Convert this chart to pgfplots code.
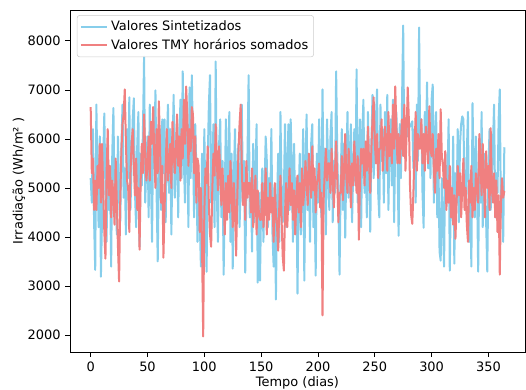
\documentclass[border=0pt]{standalone}
\usepackage{pgfplots}
\usepackage{pgfplotstable}
\pgfplotsset{compat=1.18}
\usepackage{fontspec}
\setmainfont{DejaVu Sans}

\definecolor{skyblue}{HTML}{87CEEB}
\definecolor{lightcoral}{HTML}{F08080}
\definecolor{legframe}{HTML}{CCCCCC}

% Daily irradiation, synthesized series (Wh/m2), day 0..364
\pgfplotstableread[row sep=\\]{
S\\
5200\\ 4700\\ 6200\\ 4300\\ 3330\\ 6700\\ 5200\\ 4200\\ 6050\\ 3190\\
4400\\ 5550\\ 6520\\ 4900\\ 3900\\ 5900\\ 4550\\ 5300\\ 3395\\ 5700\\
6630\\ 4700\\ 5200\\ 4050\\ 6050\\ 4900\\ 4300\\ 5800\\ 6700\\ 4800\\
5400\\ 4050\\ 6200\\ 5200\\ 6850\\ 4550\\ 5550\\ 6400\\ 6830\\ 4900\\
4200\\ 5900\\ 6550\\ 3800\\ 5700\\ 5050\\ 6200\\ 7680\\ 4700\\ 5550\\
6050\\ 4400\\ 6700\\ 5300\\ 3900\\ 6300\\ 5700\\ 6990\\ 4900\\ 3500\\
5400\\ 6200\\ 4550\\ 6400\\ 5300\\ 6400\\ 4300\\ 5900\\ 6700\\ 4900\\
6200\\ 4050\\ 5700\\ 6900\\ 4800\\ 5400\\ 6400\\ 4400\\ 5900\\ 6800\\
5200\\ 7380\\ 5550\\ 4700\\ 6550\\ 6050\\ 4200\\ 7050\\ 5200\\ 7300\\
5900\\ 4400\\ 6300\\ 5400\\ 3900\\ 4900\\ 4300\\ 3395\\ 5700\\ 3700\\
6200\\ 4550\\ 3290\\ 5550\\ 6700\\ 7300\\ 4700\\ 5200\\ 6300\\ 4200\\
7580\\ 4900\\ 3900\\ 5900\\ 6400\\ 4400\\ 5550\\ 3230\\ 4900\\ 6400\\
4550\\ 5400\\ 6550\\ 3900\\ 5700\\ 3354\\ 5200\\ 6200\\ 4400\\ 5300\\
5900\\ 4200\\ 5050\\ 6700\\ 4700\\ 5550\\ 3272\\ 4900\\ 5700\\ 7300\\
4400\\ 5200\\ 3700\\ 5900\\ 4300\\ 5300\\ 6300\\ 3069\\ 4900\\ 3110\\
4700\\ 5400\\ 3900\\ 4900\\ 6050\\ 5550\\ 4200\\ 5200\\ 4550\\ 6200\\
4050\\ 3395\\ 5050\\ 2724\\ 4700\\ 5700\\ 3900\\ 6550\\ 4900\\ 4300\\
4900\\ 6300\\ 4200\\ 5300\\ 6300\\ 4550\\ 6400\\ 5400\\ 3900\\ 5900\\
4400\\ 5200\\ 2846\\ 4800\\ 5700\\ 4050\\ 4900\\ 6200\\ 3110\\ 5400\\
6500\\ 4550\\ 5300\\ 3900\\ 5900\\ 6300\\ 4200\\ 4900\\ 3211\\ 5700\\
4700\\ 6400\\ 5300\\ 4400\\ 7012\\ 4900\\ 5800\\ 4050\\ 6400\\ 5400\\
4550\\ 6050\\ 6550\\ 4300\\ 5550\\ 4900\\ 7378\\ 5700\\ 4700\\ 3232\\
5200\\ 6200\\ 4550\\ 5900\\ 3984\\ 5550\\ 6550\\ 4800\\ 5700\\ 6300\\
4300\\ 5300\\ 6200\\ 5050\\ 7419\\ 4700\\ 5700\\ 6400\\ 4200\\ 6050\\
6800\\ 4900\\ 5800\\ 4400\\ 6550\\ 5400\\ 4106\\ 5900\\ 6900\\ 5200\\
5800\\ 6400\\ 7012\\ 4900\\ 4400\\ 6700\\ 5550\\ 6200\\ 4700\\ 6550\\
5300\\ 6900\\ 4550\\ 6050\\ 6400\\ 5050\\ 6800\\ 4300\\ 5900\\ 6550\\
5550\\ 4024\\ 6300\\ 5200\\ 6800\\ 8313\\ 5700\\ 6400\\ 6200\\ 6050\\
6300\\ 6250\\ 6300\\ 6360\\ 5400\\ 6200\\ 4700\\ 6700\\ 5550\\ 8272\\
5900\\ 6400\\ 4900\\ 4187\\ 6550\\ 5800\\ 7154\\ 5400\\ 6200\\ 5200\\
6800\\ 7110\\ 4700\\ 6050\\ 6550\\ 4400\\ 5550\\ 3700\\ 3516\\ 5200\\
4200\\ 3395\\ 5700\\ 4700\\ 5200\\ 6400\\ 3313\\ 4900\\ 4400\\ 6050\\
3455\\ 5300\\ 4700\\ 6200\\ 4300\\ 5900\\ 6300\\ 6460\\ 6400\\ 4900\\
4550\\ 5700\\ 6550\\ 3900\\ 4900\\ 3395\\ 6728\\ 5400\\ 4400\\ 6050\\
5050\\ 3293\\ 5550\\ 4700\\ 6550\\ 4200\\ 5700\\ 4900\\ 4300\\ 3293\\
5400\\ 6200\\ 4550\\ 5200\\ 5900\\ 6700\\ 4400\\ 5300\\ 4900\\ 6400\\
7012\\ 4400\\ 5050\\ 3900\\ 5830\\
}\synt

% Daily sums of the hourly TMY values (Wh/m2), day 0..364
\pgfplotstableread[row sep=\\]{
T\\
6650\\ 5300\\ 5600\\ 4550\\ 5150\\ 4550\\ 5450\\ 5000\\ 5900\\ 4700\\
5900\\ 5000\\ 4100\\ 3557\\ 5300\\ 6200\\ 4850\\ 5450\\ 4400\\ 5150\\
4850\\ 4250\\ 5600\\ 4700\\ 3800\\ 3090\\ 4700\\ 5750\\ 6300\\ 6500\\
7010\\ 5900\\ 5150\\ 5000\\ 4100\\ 5300\\ 5900\\ 6200\\ 5450\\ 4850\\
5600\\ 4550\\ 5000\\ 3740\\ 5150\\ 5900\\ 5300\\ 6500\\ 5750\\ 5150\\
5450\\ 6050\\ 5150\\ 6350\\ 5900\\ 6650\\ 5600\\ 5000\\ 6200\\ 5300\\
6770\\ 5900\\ 4700\\ 5450\\ 3577\\ 4550\\ 5450\\ 6200\\ 5150\\ 5450\\
5900\\ 5000\\ 6350\\ 5750\\ 5300\\ 5750\\ 6500\\ 5450\\ 6050\\ 5150\\
6200\\ 5600\\ 6800\\ 5900\\ 7070\\ 6500\\ 5450\\ 6200\\ 5750\\ 6650\\
6500\\ 5300\\ 6050\\ 4700\\ 5600\\ 5450\\ 4100\\ 5000\\ 3800\\ 1970\\
4500\\ 5400\\ 5100\\ 5850\\ 4650\\ 4050\\ 3800\\ 4950\\ 5700\\ 5250\\
6300\\ 5550\\ 4950\\ 5850\\ 5400\\ 4650\\ 5400\\ 4800\\ 4050\\ 5100\\
4350\\ 5250\\ 4500\\ 5550\\ 4950\\ 4200\\ 5100\\ 4500\\ 3618\\ 4800\\
5700\\ 6300\\ 6700\\ 5400\\ 4650\\ 5100\\ 4350\\ 5550\\ 4800\\ 5100\\
5100\\ 4500\\ 5400\\ 4200\\ 4800\\ 5250\\ 4050\\ 4950\\ 4500\\ 4350\\
4350\\ 5100\\ 4200\\ 4650\\ 5400\\ 4050\\ 4800\\ 4350\\ 5100\\ 4500\\
4800\\ 3900\\ 5100\\ 4500\\ 4200\\ 3720\\ 4650\\ 5250\\ 4350\\ 3600\\
3313\\ 4500\\ 5100\\ 4200\\ 4800\\ 5400\\ 4650\\ 5100\\ 4350\\ 4950\\
4050\\ 4800\\ 5250\\ 4500\\ 5100\\ 4200\\ 5400\\ 4650\\ 4950\\ 5550\\
5100\\ 4650\\ 5700\\ 5250\\ 4800\\ 5850\\ 4950\\ 5400\\ 4500\\ 5100\\
5200\\ 5500\\ 4600\\ 4900\\ 2398\\ 4750\\ 5350\\ 5800\\ 5150\\ 5500\\
5500\\ 4900\\ 5800\\ 5200\\ 4600\\ 5350\\ 5950\\ 5150\\ 4300\\ 4900\\
4900\\ 5650\\ 4750\\ 5350\\ 6100\\ 5200\\ 4900\\ 5800\\ 5350\\ 4600\\
5500\\ 5050\\ 5950\\ 5350\\ 4900\\ 5650\\ 3943\\ 5200\\ 5800\\ 5500\\
5800\\ 5050\\ 5950\\ 5350\\ 6250\\ 5500\\ 4900\\ 5800\\ 6400\\ 6850\\
5950\\ 5500\\ 6100\\ 5200\\ 5800\\ 5800\\ 6400\\ 5350\\ 5800\\ 6250\\
5950\\ 5350\\ 6550\\ 5650\\ 6100\\ 5500\\ 6700\\ 5800\\ 7073\\ 6250\\
5500\\ 6100\\ 5500\\ 5950\\ 6400\\ 5650\\ 6700\\ 5350\\ 6100\\ 7053\\
6400\\ 5050\\ 4450\\ 4268\\ 4900\\ 5800\\ 6550\\ 5350\\ 6100\\ 5800\\
5800\\ 6400\\ 5500\\ 6100\\ 5350\\ 6250\\ 5950\\ 5500\\ 6667\\ 5800\\
5650\\ 6100\\ 5350\\ 4900\\ 5800\\ 5350\\ 6100\\ 5200\\ 6606\\ 5650\\
5450\\ 5000\\ 5750\\ 4550\\ 5150\\ 4700\\ 5450\\ 4400\\ 5000\\ 4250\\
4850\\ 3963\\ 4700\\ 5450\\ 4850\\ 5300\\ 4400\\ 5000\\ 5600\\ 4550\\
5000\\ 4250\\ 3900\\ 5150\\ 4700\\ 5450\\ 4400\\ 5000\\ 4550\\ 5300\\
5000\\ 4700\\ 6100\\ 5600\\ 4850\\ 5900\\ 5150\\ 4400\\ 5750\\ 5000\\
5450\\ 4550\\ 6220\\ 5000\\ 4700\\ 5300\\ 4400\\ 5150\\ 4100\\ 4850\\
3232\\ 4700\\ 5200\\ 4800\\ 4940\\
}\tmy

\begin{document}
\begin{tikzpicture}
\useasboundingbox (0,0) rectangle (394.5pt,292.5pt);
\begin{axis}[
  at={(52.5pt,28.5pt)}, anchor=south west,
  scale only axis, width=341.25pt, height=256.5pt,
  xmin=-18.2, xmax=382.2, ymin=1653, ymax=8630,
  xtick={0,50,...,350}, ytick={2000,3000,...,8000},
  tick align=outside, tick pos=left,
  major tick length=3.6pt,
  every tick/.style={black, line width=0.6pt},
  axis line style={line width=0.6pt},
  /pgf/number format/assume math mode=true,
  scaled y ticks=false,
  yticklabel style={/pgf/number format/1000 sep={}},
  ticklabel style={font=\fontsize{9.7}{11.5}\selectfont},
  label style={font=\fontsize{9.7}{11.5}\selectfont},
  xlabel={Tempo (dias)},
  ylabel={Irradiação (Wh/m² )},
  xlabel style={yshift=3pt},
  ylabel style={yshift=-5pt},
  legend style={at={(0.015,0.985)}, anchor=north west,
    draw=legframe, rounded corners=2pt, fill=white, fill opacity=0.8,
    text opacity=1, font=\fontsize{9.7}{11.5}\selectfont,
    inner xsep=2pt, inner ysep=2pt, row sep=1pt},
  legend cell align=left,
  legend image code/.code={\draw[#1, line width=1.5pt] (0pt,0pt) -- (20pt,0pt);},
]
\addplot[skyblue, line width=1.5pt, line join=round] table[x expr=\coordindex, y=S] {\synt};
\addlegendentry{Valores Sintetizados}
\addplot[lightcoral, line width=1.5pt, line join=round] table[x expr=\coordindex, y=T] {\tmy};
\addlegendentry{Valores TMY horários somados}
\end{axis}
\end{tikzpicture}
\end{document}
